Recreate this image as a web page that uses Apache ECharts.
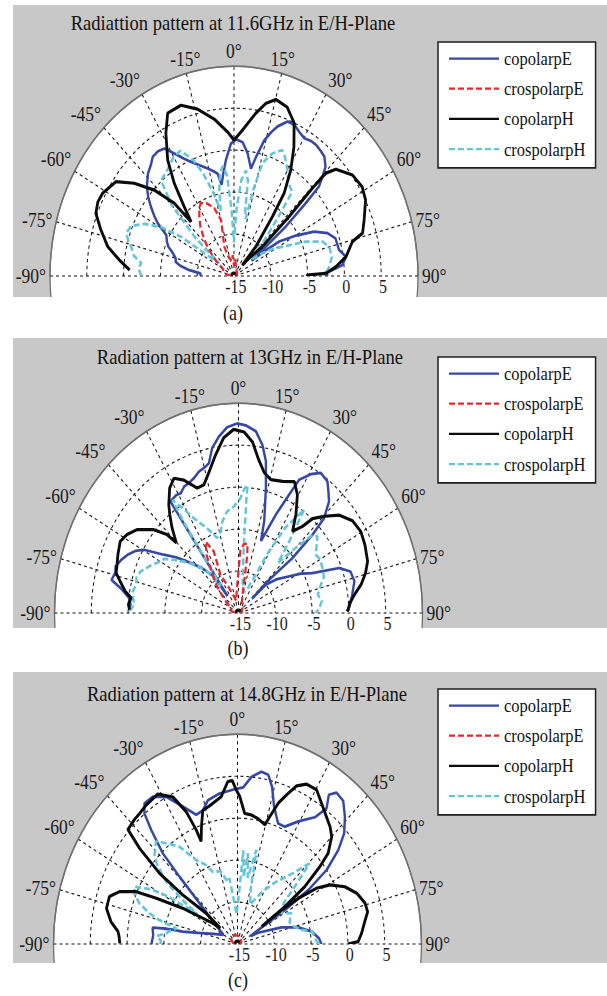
<!DOCTYPE html>
<html>
<head>
<meta charset="utf-8">
<script src="https://cdn.jsdelivr.net/npm/echarts@6/dist/echarts.min.js"></script>
<style>
html, body { margin: 0; padding: 0; background: #fff; }
#wrap { width: 607px; height: 996px; overflow: hidden; }
/* the source figure is stretched vertically, so the whole chart is too */
#chart { width: 607px; height: 874px; transform: scaleY(1.1396); transform-origin: 0 0; }
</style>
</head>
<body>
<div id="wrap"><div id="chart"></div></div>
<script>
// [angle deg, level dB]
const aCopolE = [[-90,-15.5],[-86,-15.4],[-83,-13.7],[-80.5,-12.6],[-78,-11.9],[-75,-11.8],[-71.6,-11.2],[-68.5,-10.4],[-65.8,-10.0],[-62.1,-9.6],[-58.8,-7.9],[-56.5,-7.0],[-53.8,-6.0],[-51,-5.0],[-48.1,-4.1],[-43.8,-3.1],[-40.5,-2.6],[-37.8,-2.0],[-34.8,-1.9],[-31.9,-2.1],[-29,-3.3],[-26,-4.4],[-23.2,-5.2],[-19.5,-6.0],[-15.6,-6.7],[-12.5,-7.2],[-10.3,-7.6],[-8.8,-9.0],[-6.5,-7.5],[-4.5,-6.1],[-1.5,-4.2],[1,-3.7],[4.2,-4.0],[7.3,-5.3],[10.2,-7.0],[11.9,-5.5],[14.3,-3.3],[16.5,-2.1],[18.4,-1.2],[21.6,-0.2],[24.5,-0.2],[27.5,-0.7],[30.2,-1.0],[33,-0.8],[35.5,-0.8],[38.3,-1.0],[40.8,-1.2],[43.7,-2.0],[45.5,-3.2],[47.3,-4.3],[48.3,-7.0],[50,-10.8],[51,-14.5],[52.5,-17],[54.5,-14.8],[56.2,-12.6],[60.2,-10.3],[64.1,-7.9],[68.1,-6.3],[72,-5.5],[77.7,-5.4],[81.4,-4.6],[84.9,-5.2],[87.3,-6.8],[88.5,-7.8],[90,-7.2]];
const aCrosE = [[-90,-19.6],[-80,-19.0],[-70,-18.6],[-60,-18.2],[-52,-16.5],[-46,-15.0],[-43,-14.1],[-38,-12.6],[-33.7,-11.5],[-30,-10.6],[-27.4,-10.2],[-23,-10.6],[-18.3,-11.5],[-14.8,-13.1],[-17,-14.8],[-20.7,-16.3],[-18,-17.6],[-10,-18.2],[-4,-17.5],[0,-18.8],[6,-18.0],[12,-18.8],[25,-19.2],[40,-19.4],[60,-19.5],[90,-19.7]];
const aCopolH = [[-87.1,-5.8],[-83,-4.3],[-78.5,-2.5],[-73.1,-1.1],[-68.3,0.2],[-64.5,0.5],[-61.1,0.4],[-55,-0.4],[-50.8,-2.5],[-46.6,-5.1],[-43.1,-8.1],[-42.1,-11.3],[-39.3,-9.3],[-36.3,-6.3],[-33.1,-3.5],[-28.5,-0.6],[-24.9,1.4],[-19.5,1.6],[-14,0.5],[-8.2,-1.1],[-2.9,-2.8],[0,-3.8],[3.7,-2.6],[8.6,-0.4],[11.8,1.0],[15.1,1.8],[19.7,1.4],[24.1,0.0],[27.9,-2.6],[31.4,-5.2],[34.6,-8.0],[36.4,-11.2],[40.2,-15.4],[41,-18.3],[44,-17],[47.8,-14.8],[46.6,-9.7],[45.5,-5.1],[45.5,-2.5],[47.4,-1.2],[53.2,0.1],[58.6,0.4],[63.1,0.05],[69.3,-1.1],[73.7,-1.8],[75.7,-3.4],[81.4,-4.6],[85.4,-6.1],[88.5,-7.5],[89.3,-9.8],[90,-10.2]];
const aCrosH = [[-90,-7.4],[-86,-7.0],[-83,-7.3],[-80,-6.2],[-76,-5.6],[-73,-4.9],[-70.5,-4.5],[-67,-4.8],[-63,-6.3],[-59.5,-8.5],[-57,-11.4],[-56,-15],[-53,-17.5],[-49,-13],[-45,-8],[-41,-4.9],[-36,-4.5],[-30,-3.6],[-26,-3.4],[-22,-5],[-19,-7],[-16,-9.5],[-13,-12],[-11,-9.5],[-8.5,-7.4],[-6.5,-6.8],[-4.5,-8],[-2.5,-12],[0,-16],[2.5,-12],[5,-8.5],[7.4,-7.3],[9.5,-8.5],[11,-12],[13,-13],[14.5,-9],[16,-6],[19.6,-4.5],[23.6,-3.6],[26,-4.2],[29.8,-5.4],[33,-6.5],[36,-7],[38.2,-7.2],[40,-10],[44,-14],[48,-17],[52,-16.5],[54.9,-15.3],[58,-14],[62,-12.6],[67.2,-9.4],[71.2,-7.3],[74.9,-6.6],[80.2,-6.5],[85.1,-7.0],[88.5,-7.5],[90,-7.8]];

const bCopolE = [[-88.5,-5.1],[-86,-5.3],[-83.1,-5.0],[-81,-4.3],[-79.5,-3.7],[-77.1,-2.3],[-74,-2.6],[-71.6,-2.4],[-68,-2.9],[-65.3,-3.4],[-62,-4.2],[-59.6,-5.1],[-55.6,-7.7],[-52,-9.2],[-48.6,-10.7],[-43,-12.6],[-37.6,-14.5],[-36.5,-17.5],[-35.5,-14],[-35.1,-11],[-34.9,-7],[-34.8,-3.8],[-31,-3.6],[-28.8,-3.7],[-26,-3.2],[-23.5,-3.1],[-20.5,-2.8],[-17.7,-2.3],[-14.5,-2.0],[-12.7,-1.7],[-10.3,0.0],[-7.2,1.2],[-4,2.2],[-0.5,2.6],[2.5,2.4],[6.2,1.8],[9.2,0.3],[11.6,-1.5],[14,-4.6],[17.7,-8.5],[19.6,-10.9],[23.4,-7.2],[26,-4.3],[27.4,-2.1],[30.7,-0.75],[33.8,0.1],[37.6,-0.2],[40,-1.0],[42.8,-1.9],[45.8,-3.8],[47.1,-6.3],[48.2,-10.2],[46.4,-14.2],[47,-17.5],[47.8,-15],[52,-13.5],[57.7,-11.8],[61,-10.3],[64.6,-8.9],[68.6,-5.3],[72,-4.0],[76.5,-3.8],[79,-4.1],[82,-4.4],[87,-4.9],[89.3,-5.2]];
const bCrosE = [[-90,-19.5],[-75,-19],[-60,-18.8],[-50,-17.5],[-42,-15.5],[-35.3,-13.4],[-32,-11.8],[-27.7,-10.4],[-24.6,-11.9],[-26,-13.4],[-28.2,-14.8],[-24,-16.5],[-20,-17.5],[-12,-18.5],[-4,-17],[0,-15],[2,-12.5],[5,-11.8],[8,-11.6],[9,-12.2],[10,-13.5],[11.6,-16.2],[14,-17.8],[25,-19],[45,-19.3],[70,-19.5],[90,-19.7]];
const bCopolH = [[-88.5,-5.2],[-86,-5.0],[-83,-5.3],[-80.5,-4.4],[-78,-3.8],[-74,-2.7],[-70.5,-2.5],[-67,-2.2],[-62,-1.8],[-58.3,-2.2],[-54.2,-3.0],[-49.2,-4.8],[-46.1,-6.5],[-45.3,-8.1],[-41.6,-6.4],[-38.5,-5],[-36.3,-4.0],[-32.1,-2.4],[-28.6,-1.7],[-25.1,-2.5],[-20.6,-4.1],[-17.1,-4.0],[-13.6,-2.8],[-9.4,-0.9],[-5.5,1.0],[-1.7,1.9],[2,1.6],[5.3,0.5],[8.5,-1.5],[11.8,-2.9],[15.4,-3.5],[20.9,-3.2],[25.9,-2.6],[29.6,-3.8],[33.6,-5.9],[37,-7.8],[40.1,-6.5],[41.8,-4.9],[45.3,-3.6],[49.6,-2.0],[54.6,-1.0],[59.7,-0.75],[64.7,-1.0],[70.6,-1.4],[74.6,-2.1],[78.5,-3.0],[82.1,-4.1],[85.5,-4.8],[89.3,-5.2]];
const bCrosH = [[-89,-5.2],[-86,-5.8],[-83.2,-5.6],[-80,-5.4],[-76.3,-5.7],[-73,-5.5],[-69.6,-5.8],[-64.6,-6.8],[-61,-7.5],[-57.5,-8.0],[-54,-9.2],[-50.4,-10.4],[-45,-12],[-40.6,-13.5],[-37,-16],[-35,-12],[-34.5,-7],[-33.7,-3.8],[-31,-5.5],[-28.2,-7.2],[-23,-9],[-17.9,-10.6],[-14,-10.0],[-11.7,-9.0],[-9,-8.2],[-7.2,-7.8],[-2.9,-7.3],[1.1,-6.3],[3,-5.2],[4.7,-4.7],[4.5,-6.1],[4.7,-8.5],[5.2,-12],[8,-16],[15,-17.5],[22,-17],[27,-15],[29,-12],[32,-8],[35.9,-4.8],[38.9,-9.0],[42,-12],[45,-9],[47,-6.5],[49.5,-5.9],[52,-6.5],[56.5,-7.4],[60,-7.2],[64.8,-7.4],[69.4,-7.6],[73.2,-8.3],[78.5,-9.0],[83,-8.6],[86.9,-9.0],[90,-9.5]];

const cCopolE = [[-90,-8.3],[-85,-8.5],[-80.4,-8.3],[-79.6,-9.7],[-79,-11],[-78.8,-12.4],[-76,-14.5],[-70,-16.5],[-60,-17.8],[-52,-16],[-48,-14.2],[-46.8,-12.9],[-44.5,-8.8],[-43.2,-5.2],[-40.8,-2.1],[-39.1,0.05],[-37,1.0],[-33.2,1.0],[-28.9,0.05],[-24.4,-2.0],[-20,-3.6],[-16.5,-3.4],[-13.2,-2.4],[-7.8,-1.9],[-2,-1.6],[2.4,-1.3],[5.4,0.0],[9,0.8],[11.7,0.6],[14.1,-0.7],[16.9,-2.9],[21,-4.6],[24.7,-4.6],[29.5,-3.2],[34.8,-1.6],[36.8,0.2],[34.9,1.7],[36.7,2.5],[40.1,2.3],[43.9,1.05],[47.7,-0.4],[50.7,-2.3],[53.9,-5.0],[56.2,-8.4],[57.8,-12.4],[59.3,-16.7],[62,-18],[64.4,-16.9],[71.6,-13.7],[76.5,-11.5],[81.7,-9.8],[86.5,-8.9],[90,-8.6]];
const cCrosE = [[-90,-19.5],[-60,-19.0],[-30,-18.8],[0,-19.0],[30,-19.2],[60,-19.4],[90,-19.6]];
const cCopolH = [[-89.7,-4.0],[-87,-3.9],[-84.8,-3.7],[-81.2,-2.6],[-78,-2.0],[-76.6,-1.7],[-72,-1.7],[-68.7,-2.8],[-65.6,-4.9],[-63.7,-7.7],[-60.2,-11.4],[-53.6,-15.8],[-51,-17],[-49.3,-14.4],[-51.8,-10.5],[-51.5,-6.5],[-49.4,-2.5],[-47.5,0.2],[-43.3,0.4],[-40,0.5],[-36.8,0.7],[-31.2,0.9],[-26.6,-0.4],[-23.8,-2.8],[-22.4,-5.3],[-22,-6.8],[-19,-5],[-16.5,-3.4],[-13,-3.1],[-7.2,-2.3],[-3.9,-0.6],[-2.1,-0.5],[-0.6,-1.6],[1,-2.4],[3.6,-4.4],[7,-4.5],[10.6,-4.8],[14.7,-5.3],[16.1,-4.2],[18.3,-2.3],[20.6,-1.0],[23.1,0.5],[26.2,1.25],[30.3,1.3],[34.2,0.3],[38.5,-0.6],[42,-1.2],[45,-1.9],[48.7,-3.6],[50.5,-5.5],[53.2,-8.6],[55.3,-12.2],[57.7,-16.1],[56,-14],[55.9,-12.8],[56.6,-10.1],[58.2,-7.4],[60.7,-5.6],[64.9,-3.9],[69.5,-2.7],[74.3,-2.0],[77.7,-1.9],[81.2,-2.5],[85.7,-3.1],[89,-3.6],[90,-5.0]];
const cCrosH = [[-90,-9.5],[-88,-9.6],[-85,-9.0],[-82.5,-10.2],[-80,-10.8],[-77.4,-11.5],[-75,-9],[-73,-7.5],[-70,-5.8],[-67,-4.8],[-64,-4.4],[-61,-6.5],[-59,-9],[-58.4,-10.7],[-57,-13.5],[-55,-11],[-52.6,-7.8],[-49,-5.5],[-46.7,-4.5],[-42.2,-3.5],[-38,-4.8],[-34.2,-6.0],[-29.3,-8.5],[-24.3,-9.7],[-21.3,-10.8],[-15,-11],[-10,-12.5],[-7.9,-12.1],[-5,-15],[-2,-16.5],[2,-14],[4,-8.8],[6,-12],[7.4,-9.1],[10,-12],[12.8,-8.5],[13.2,-8.7],[15,-13],[20,-15],[28,-13],[35,-11],[41.7,-8.7],[45.5,-6.3],[48,-9],[52,-12],[58,-13],[63.5,-11.8],[70,-12.5],[75,-12],[79.1,-11.1],[81.8,-9.7],[86,-9.5],[90,-9.0]];

const seriesNames = ["copolarpE", "crospolarpE", "copolarpH", "crospolarpH"];
const curves = [
  [aCopolE, aCrosE, aCopolH, aCrosH],
  [bCopolE, bCrosE, bCopolH, bCrosH],
  [cCopolE, cCrosE, cCopolH, cCrosH]
];

const SY = 1.1396;
const FONT = "'Liberation Serif', 'Times New Roman', serif";
const R = 184;

// layout (page pixels)
const panels = [
  { title: "Radiattion pattern at 11.6GHz in E/H-Plane", tag: "(a)", cx: 234, cy: 276, top: 5, bottom: 297, titleX: 233, titleY: 23, legendTop: 42, tagX: 233, tagY: 313 },
  { title: "Radiation pattern at 13GHz in E/H-Plane", tag: "(b)", cx: 238.5, cy: 613, top: 338, bottom: 628, titleX: 250, titleY: 357, legendTop: 357, tagX: 238, tagY: 648 },
  { title: "Radiation pattern at 14.8GHz in E/H-Plane", tag: "(c)", cx: 237.5, cy: 944, top: 672, bottom: 963, titleX: 247, titleY: 694, legendTop: 689, tagX: 238, tagY: 980 }
];

const styles = [
  { color: "#3647a4", width: 2.4, type: "solid" },
  { color: "#e8262b", width: 2.2, type: [6, 3] },
  { color: "#0b0b0b", width: 2.8, type: "solid" },
  { color: "#62c6d8", width: 2.4, type: [6, 3] }
];
const zOrder = [3, 6, 5, 4];

let polar = [], angleAxis = [], radiusAxis = [], series = [], legend = [], graphic = [];

panels.forEach((p, i) => {
  const center = [p.cx, p.cy / SY];
  // data polar
  polar.push({ center: center, radius: [0, R] });
  angleAxis.push({
    polarIndex: 2 * i, type: "value", min: -90, max: 90, interval: 15,
    startAngle: 180, endAngle: 0,
    axisLine: { lineStyle: { color: "#707070", width: 1.3 } },
    axisTick: { show: false },
    axisLabel: { formatter: v => v + "°", color: "#1a1a1a", fontFamily: FONT, fontSize: 17.5, margin: 4 },
    splitLine: { lineStyle: { color: "#111", type: [3, 3], width: 1 } }
  });
  radiusAxis.push({
    polarIndex: 2 * i, type: "value", min: -20, max: 5, interval: 5,
    axisLine: { show: false }, axisTick: { show: false }, axisLabel: { show: false },
    splitLine: { lineStyle: { color: ["#111", "#111", "#111", "#111", "#111", "rgba(0,0,0,0)"], type: [3, 3], width: 1 } }
  });
  // second polar only to put the dB labels along the right half of the baseline
  polar.push({ center: center, radius: [0, R] });
  angleAxis.push({ polarIndex: 2 * i + 1, type: "value", min: 0, max: 180, startAngle: 0, endAngle: 180, show: false });
  radiusAxis.push({
    polarIndex: 2 * i + 1, type: "value", min: -20, max: 5, interval: 5,
    axisLine: { show: false }, axisTick: { show: false }, splitLine: { show: false },
    axisLabel: { showMinLabel: false, margin: -2, verticalAlign: "top", align: "center", padding: [0, 70, 0, 0], color: "#1a1a1a", fontFamily: FONT, fontSize: 16 }
  });

  curves[i].forEach((pts, k) => {
    series.push({
      name: seriesNames[k], type: "line", coordinateSystem: "polar", polarIndex: 2 * i,
      data: pts.map(d => [d[1], d[0]]),
      symbol: "none", showSymbol: false, z: zOrder[k],
      itemStyle: { color: styles[k].color },
      lineStyle: styles[k]
    });
  });

  legend.push({
    orient: "vertical", left: 438, top: p.legendTop / SY, data: seriesNames,
    itemWidth: 50, itemHeight: 14, itemGap: 9.5,
    itemStyle: { opacity: 0 },
    backgroundColor: "#fff", borderColor: "#1e1e1e", borderWidth: 1.5,
    padding: [6, 10, 8, 10], selectedMode: false,
    textStyle: { fontFamily: FONT, fontSize: 16.5, color: "#111" }
  });

  const z0 = -20 + i * 3;
  graphic.push({ type: "rect", z: z0, silent: true, shape: { x: 13, y: p.top / SY, width: 594, height: (p.bottom - p.top) / SY }, style: { fill: "#c8c8c8" } });
  graphic.push({ type: "circle", z: z0 + 1, silent: true, shape: { cx: center[0], cy: center[1], r: R }, style: { fill: "#fff", stroke: "#707070", lineWidth: 1.3 } });
  graphic.push({ type: "rect", z: z0 + 2, silent: true, shape: { x: 0, y: p.bottom / SY, width: 607, height: 60 }, style: { fill: "#fff" } });
  graphic.push({ type: "text", z: 20, silent: true, style: { text: p.title, x: p.titleX, y: p.titleY / SY, align: "center", verticalAlign: "middle", textAlign: "center", textVerticalAlign: "middle", font: "18.6px " + FONT, fill: "#111" } });
  graphic.push({ type: "text", z: 20, silent: true, style: { text: p.tag, x: p.tagX, y: p.tagY / SY, align: "center", verticalAlign: "middle", textAlign: "center", textVerticalAlign: "middle", font: "18px " + FONT, fill: "#111" } });
});

const chart = echarts.init(document.getElementById("chart"), null, { renderer: "svg" });
chart.setOption({
  animation: false,
  backgroundColor: "#fff",
  polar: polar,
  angleAxis: angleAxis,
  radiusAxis: radiusAxis,
  legend: legend,
  graphic: graphic,
  series: series
});
</script>
</body>
</html>
